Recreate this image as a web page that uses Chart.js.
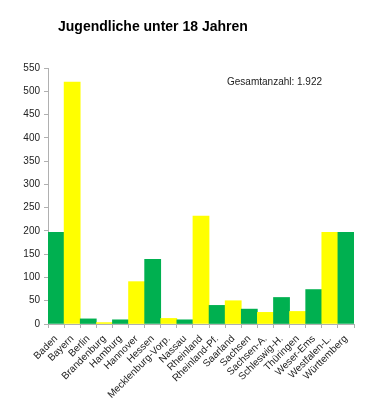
<!DOCTYPE html>
<html>
<head>
<meta charset="utf-8">
<script src="https://cdn.jsdelivr.net/npm/chart.js@4.4.0/dist/chart.umd.min.js"></script>
<style>
html,body{margin:0;padding:0;background:#fff;}
#wrap{width:376px;height:399px;position:relative;}
</style>
</head>
<body>
<div id="wrap"><canvas id="c" width="376" height="399"></canvas></div>
<script>
const categories = ["Baden","Bayern","Berlin","Brandenburg","Hamburg","Hannover","Hessen","Mecklenburg-Vorp.","Nassau","Rheinland","Rheinland-Pf.","Saarland","Sachsen","Sachsen-A.","Schleswig-H.","Thüringen","Weser-Ems","Westfalen-L.","Württemberg"];
const values = [197,520,11,3,9,91,139,12,9,232,40,50,32,25,57,27,74,197,197];
const barColors = ["#00b050","#ffff00","#00b050","#ffff00","#00b050","#ffff00","#00b050","#ffff00","#00b050","#ffff00","#00b050","#ffff00","#00b050","#ffff00","#00b050","#ffff00","#00b050","#ffff00","#00b050"];
const titleText = "Jugendliche unter 18 Jahren";
const noteText = "Gesamtanzahl: 1.922";
const yMin = 0, yMax = 550, yStep = 50;

const textPlugin = {
  id: 'texts',
  afterDraw(chart) {
    const ctx = chart.ctx;
    ctx.save();
    ctx.fillStyle = '#000';
    ctx.font = 'bold 14px "Liberation Sans", Arial, sans-serif';
    ctx.textBaseline = 'middle';
    ctx.textAlign = 'left';
    ctx.fillText(titleText, 58, 27);
    ctx.fillStyle = '#222';
    ctx.font = '10px "Liberation Sans", Arial, sans-serif';
    ctx.fillText(noteText, 227, 82);
    ctx.restore();
  }
};

new Chart(document.getElementById('c'), {
  type: 'bar',
  data: {
    labels: categories,
    datasets: [{
      data: values,
      backgroundColor: barColors,
      borderWidth: 0,
      barPercentage: 1,
      categoryPercentage: 1
    }]
  },
  options: {
    responsive: false,
    animation: false,
    devicePixelRatio: 1,
    layout: { padding: { left: 0, right: 22, top: 68, bottom: 0 } },
    plugins: { legend: { display: false }, title: { display: false }, tooltip: { enabled: false } },
    scales: {
      x: {
        grid: { display: true, drawOnChartArea: false, offset: true, tickLength: 4, color: '#b0b0b0' },
        border: { display: true, color: '#b0b0b0' },
        ticks: {
          color: '#222',
          font: { family: '"Liberation Sans", Arial, sans-serif', size: 10 },
          minRotation: 45, maxRotation: 45, autoSkip: false, padding: 5
        },
        afterFit(scale) { scale.height = 75; }
      },
      y: {
        min: yMin, max: yMax,
        grid: { display: true, drawOnChartArea: false, tickLength: 4, color: '#b0b0b0' },
        border: { display: true, color: '#b0b0b0' },
        ticks: {
          stepSize: yStep,
          color: '#222',
          font: { family: '"Liberation Sans", Arial, sans-serif', size: 10 },
          padding: 4
        },
        afterFit(scale) { scale.width = 48; }
      }
    }
  },
  plugins: [textPlugin]
});
</script>
</body>
</html>
